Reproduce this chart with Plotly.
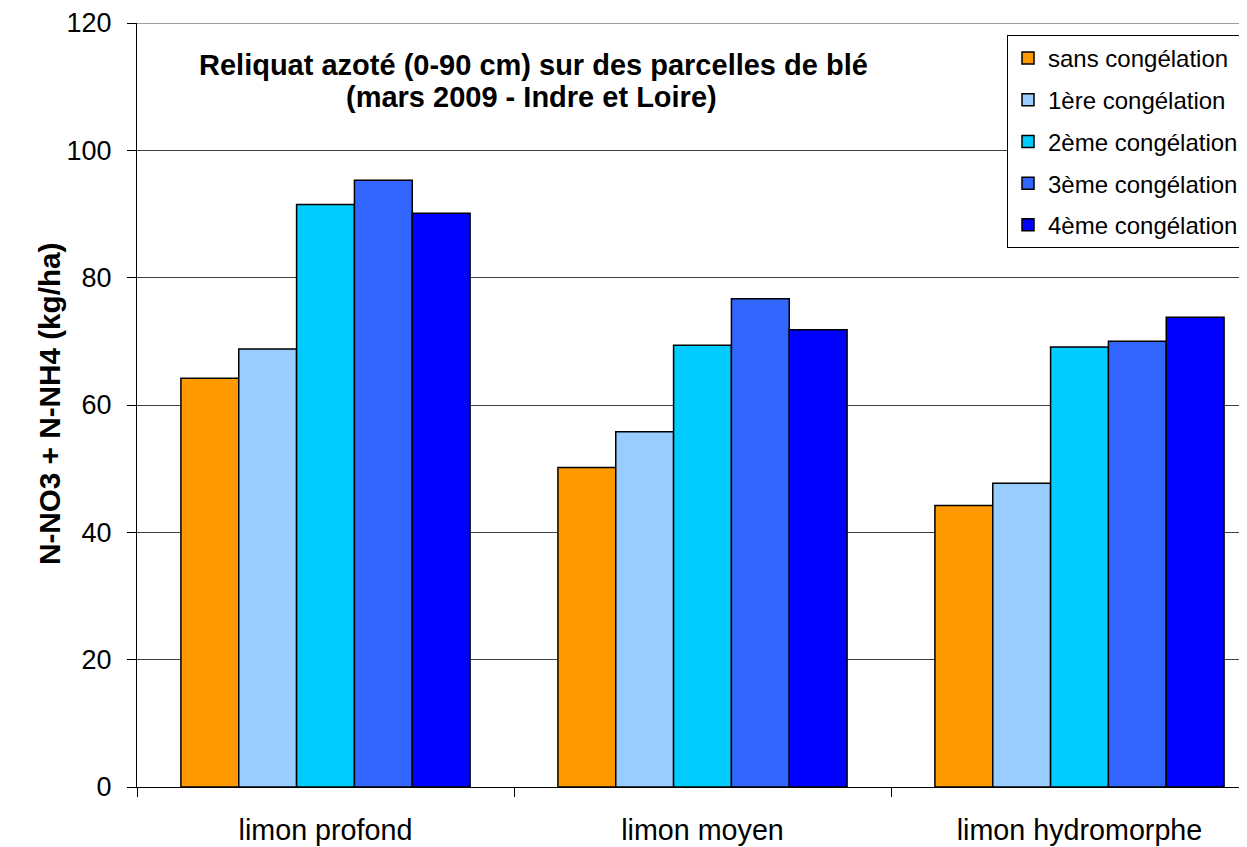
import plotly.graph_objects as go

categories = ["limon profond", "limon moyen", "limon hydromorphe"]
series_names = ["sans congélation", "1ère congélation", "2ème congélation",
                "3ème congélation", "4ème congélation"]
sans_congelation = [64.2, 50.2, 44.2]
congelation_1 = [68.8, 55.8, 47.7]
congelation_2 = [91.5, 69.4, 69.1]
congelation_3 = [95.3, 76.7, 70.0]
congelation_4 = [90.1, 71.8, 73.8]
series_values = [sans_congelation, congelation_1, congelation_2, congelation_3, congelation_4]
colors = ["#FF9900", "#99CCFF", "#00CCFF", "#3366FF", "#0000FF"]
y_ticks = [0, 20, 40, 60, 80, 100, 120]

FONT = "Liberation Sans, Arial, sans-serif"

fig = go.Figure()
for i, (name, vals) in enumerate(zip(series_names, series_values)):
    fig.add_trace(go.Bar(
        x=categories, y=vals, name=name,
        marker=dict(color=colors[i], line=dict(color="black", width=1.5)),
        legendgroup=f"g{i}",
    ))

# page has an 8px body margin; figure coords = page coords - 8
OFF = 8
W, H = 1247 - OFF, 847 - OFF
L, T = 137 - OFF, 21 - OFF
plot_bottom = 787 - OFF
B = H - plot_bottom
R = 0
plot_w = W - L - R
plot_h = plot_bottom - T
cat_px = 377.0
x_max = -0.5 + plot_w / cat_px


def px_x(page_x):
    return (page_x - OFF - L) / plot_w


def px_y(page_y):
    return (plot_bottom - (page_y - OFF)) / plot_h


fig.update_layout(
    width=W, height=H,
    margin=dict(l=L, r=R, t=T, b=B, pad=0),
    paper_bgcolor="white", plot_bgcolor="white",
    barmode="group", bargap=0.233, bargroupgap=0,
    font=dict(family=FONT, color="black"),
    showlegend=True,
    legend=dict(
        x=px_x(1007), y=px_y(33),
        xanchor="left", yanchor="top",
        bgcolor="white", bordercolor="black", borderwidth=1,
        font=dict(family=FONT, size=24, color="black"),
        tracegroupgap=7.5, traceorder="grouped",
    ),
    xaxis=dict(
        type="category", range=[-0.5, x_max],
        showline=True, linecolor="black", linewidth=1,
        ticks="outside", tickson="boundaries", ticklen=9, tickcolor="black",
        tickfont=dict(family=FONT, size=28.7, color="black"),
        showgrid=False, zeroline=False,
        ticklabelstandoff=18,
    ),
    yaxis=dict(
        range=[0, 120], tickvals=y_ticks,
        showline=True, linecolor="black", linewidth=1,
        ticks="outside", ticklen=9, tickcolor="black",
        tickfont=dict(family=FONT, size=27, color="black"),
        ticklabeloverflow="allow",
        showgrid=True, gridcolor="#404040", gridwidth=1,
        zeroline=False,
        ticklabelstandoff=10,
    ),
    shapes=[
        dict(type="line", xref="paper", yref="y",
             x0=0, x1=1, y0=y_ticks[-1], y1=y_ticks[-1],
             line=dict(color="#404040", width=1), layer="below"),
    ],
    annotations=[
        dict(text="<b>Reliquat azoté (0-90 cm) sur des parcelles de blé</b>",
             xref="paper", yref="paper",
             x=px_x(533), y=px_y(63),
             xanchor="center", yanchor="middle", showarrow=False,
             font=dict(family=FONT, size=29, color="black")),
        dict(text="<b>(mars 2009 - Indre et Loire)</b>",
             xref="paper", yref="paper",
             x=px_x(531), y=px_y(95),
             xanchor="center", yanchor="middle", showarrow=False,
             font=dict(family=FONT, size=29, color="black")),
        dict(text="<b>N-NO3 + N-NH4 (kg/ha)</b>",
             xref="paper", yref="paper",
             x=px_x(49), y=px_y(403),
             xanchor="center", yanchor="middle", showarrow=False,
             textangle=-90,
             font=dict(family=FONT, size=29.7, color="black")),
    ],
)

fig.write_html("out.html")
